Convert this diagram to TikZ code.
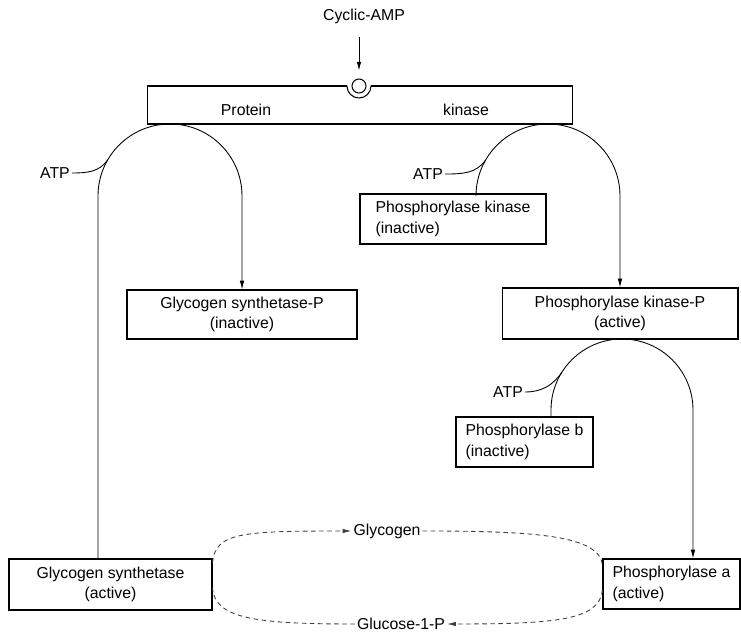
\documentclass[tikz,border=0pt]{standalone}
\usepackage{fontspec}
\setmainfont{Liberation Sans}
\usetikzlibrary{arrows.meta,calc}
\tikzset{
  enzyme/.style={draw,rectangle,line width=0.6pt,inner sep=0pt},
  arr/.style={-{Latex[length=5pt,width=2.6pt]}},
  flux/.style={dash pattern=on 2.6pt off 2pt,draw=black!75},
  tag/.style={inner sep=1pt},
}
\begin{document}
\begin{tikzpicture}[x=0.02cm,y=0.02cm,line width=0.5pt,font=\fontsize{9}{11.5}\selectfont]
\useasboundingbox (0,0) rectangle (741,-634);
% protein kinase with its cyclic-AMP site
\node[enzyme,minimum width=8.52cm,minimum height=0.76cm] (PK) at (360,-105) {};
\node (Prot) at (246,-110) {Protein};
\node (Kin) at (466,-110) {kinase};
\fill[white] (347,-83) rectangle (371,-89);
\draw[line width=0.6pt] (347,-86) arc[start angle=180,end angle=360,radius=12];
\node[draw,circle,fill=white,line width=0.6pt,minimum size=0.28cm,inner sep=0pt] (site) at (359,-86) {};
\node (Cyc) at (364,-16) {Cyclic-AMP};
\draw[arr,shorten <=4pt,shorten >=4.5pt] (Cyc.south -| site) -- (site.north);
% enzymes
\node[enzyme,align=left,minimum width=3.72cm,minimum height=1cm] (PKi) at (453,-219) {Phosphorylase kinase\\(inactive)};
\node[enzyme,align=center,minimum width=4.6cm,minimum height=0.98cm] (GSP) at (242,-314.5) {Glycogen synthetase-P\\(inactive)};
\node[enzyme,align=center,minimum width=4.72cm,minimum height=1.02cm] (PKP) at (620,-313.5) {Phosphorylase kinase-P\\(active)};
\node[enzyme,align=left,minimum width=2.74cm,minimum height=1cm] (Pb) at (524.5,-442) {Phosphorylase b\\(inactive)};
\node[enzyme,align=center,minimum width=4.06cm,minimum height=1.02cm] (GSa) at (110.5,-584.5) {Glycogen synthetase\\(active)};
\node[enzyme,align=left,minimum width=2.74cm,minimum height=1cm] (Pa) at (671.5,-584) {Phosphorylase a\\(active)};
% phosphorylations
\coordinate (Lleg) at (98,-196);
\coordinate (Rleg) at (476,-196);
\coordinate (Bleg) at (551,-410);
\coordinate (Bend) at (693,-410);
\draw[arr] (GSa.north -| Lleg) -- (Lleg) arc[start angle=180,end angle=0,radius=72] -- (GSP.north);
\draw[arr] (PKi.north -| Rleg) -- (Rleg) arc[start angle=180,end angle=0,radius=72] -- (PKP.north);
\draw[arr] (Pb.north -| Bleg) -- (Bleg) arc[start angle=180,end angle=0,radius=71] -- (Pa.north -| Bend);
% ATP inputs
\node[tag] (atp1) at (55,-173) {ATP};
\node[tag] (atp2) at (428,-174) {ATP};
\node[tag] (atp3) at (508,-392) {ATP};
\coordinate (t1) at (107.6,-160);
\coordinate (t2) at (485.6,-160);
\coordinate (t3) at (561.8,-372.4);
\draw (atp1.east) to[out=0,in=235] (t1);
\draw (atp2.east) to[out=0,in=235] (t2);
\draw (atp3.east) to[out=0,in=235] (t3);
% glycogen cycle
\node[tag] (Glyc) at (387,-531) {Glycogen};
\node[tag] (Gluc) at (401,-624) {Glucose-1-P};
\draw[flux,arr] ($(GSa.east)+(0,22)$) .. controls +(3,30) and +(-110,0) .. (Glyc.west);
\draw[flux] (Glyc.east) .. controls +(110,0) and +(-3,30) .. ($(Pa.west)+(0,19)$);
\draw[flux,arr] ($(Pa.west)+(0,-6)$) .. controls +(-3,-30) and +(110,0) .. (Gluc.east);
\draw[flux] (Gluc.west) .. controls +(-100,0) and +(3,-30) .. ($(GSa.east)+(0,-4)$);
\end{tikzpicture}
\end{document}
